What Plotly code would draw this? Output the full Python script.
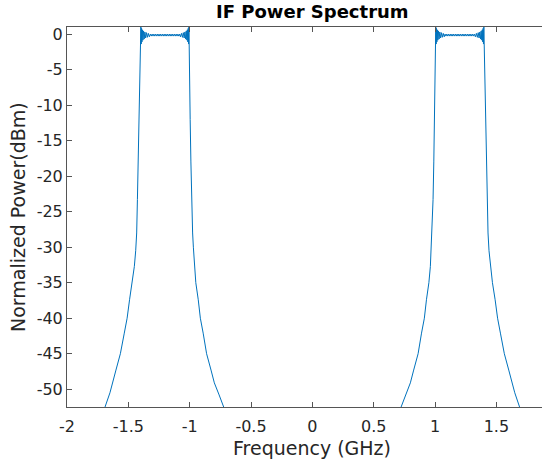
import plotly.graph_objects as go

# Frequency (GHz) and normalized power (dBm)
# Left band (negative frequencies)
left_outer_freq = [-1.720, -1.695, -1.650, -1.601, -1.565, -1.533, -1.510, -1.490, -1.468, -1.451,
                   -1.440, -1.432, -1.426, -1.420, -1.412, -1.406, -1.402]
left_outer_db = [-54.0, -52.8, -50.5, -47.3, -45.0, -42.1, -40.0, -37.4, -35.0, -32.7,
                 -30.5, -28.0, -23.3, -18.0, -12.0, -7.0, -3.0]
left_pass_freq = [-1.398, -1.395, -1.392, -1.389, -1.385, -1.381, -1.376, -1.371, -1.365, -1.359,
                  -1.352, -1.345, -1.337, -1.329,
                  -1.320, -1.313, -1.306, -1.299, -1.292, -1.285, -1.278, -1.271, -1.264, -1.257,
                  -1.250, -1.243, -1.236, -1.229, -1.222, -1.215, -1.208, -1.201, -1.194, -1.187,
                  -1.180, -1.173, -1.166, -1.159, -1.152, -1.145, -1.138, -1.131, -1.124, -1.117,
                  -1.110, -1.103, -1.096, -1.089, -1.082,
                  -1.075, -1.067, -1.059, -1.052, -1.045, -1.039, -1.033, -1.028, -1.023, -1.019,
                  -1.015, -1.012, -1.009, -1.006]
left_inner_freq = [-1.004, -1.000, -0.996, -0.990, -0.984, -0.976, -0.970, -0.962, -0.950, -0.930,
                   -0.913, -0.890, -0.862, -0.826, -0.799, -0.760, -0.717, -0.690]
left_inner_db = [-3.0, -7.0, -12.0, -18.0, -23.3, -28.0, -30.0, -32.7, -35.0, -37.4,
                 -40.0, -42.1, -45.0, -47.3, -49.1, -50.8, -52.8, -54.0]

# Right band (positive frequencies)
right_inner_freq = [0.690, 0.717, 0.760, 0.799, 0.826, 0.862, 0.890, 0.913, 0.930, 0.950,
                    0.962, 0.970, 0.976, 0.984, 0.990, 0.996, 1.000, 1.004]
right_inner_db = [-54.0, -52.8, -50.8, -49.1, -47.3, -45.0, -42.1, -40.0, -37.4, -35.0,
                  -32.7, -30.0, -28.0, -23.3, -18.0, -12.0, -7.0, -3.0]
right_pass_freq = [1.006, 1.009, 1.012, 1.015, 1.019, 1.023, 1.028, 1.033, 1.039, 1.045,
                   1.052, 1.059, 1.067, 1.075,
                   1.082, 1.089, 1.096, 1.103, 1.110, 1.117, 1.124, 1.131, 1.138, 1.145,
                   1.152, 1.159, 1.166, 1.173, 1.180, 1.187, 1.194, 1.201, 1.208, 1.215,
                   1.222, 1.229, 1.236, 1.243, 1.250, 1.257, 1.264, 1.271, 1.278, 1.285,
                   1.292, 1.299, 1.306, 1.313, 1.320,
                   1.329, 1.337, 1.345, 1.352, 1.359, 1.365, 1.371, 1.376, 1.381, 1.385,
                   1.389, 1.392, 1.395, 1.398]
right_outer_freq = [1.402, 1.406, 1.412, 1.420, 1.426, 1.432, 1.440, 1.451, 1.468, 1.490,
                    1.510, 1.533, 1.565, 1.601, 1.650, 1.695, 1.720]
right_outer_db = [-3.0, -7.0, -12.0, -18.0, -23.3, -28.0, -30.5, -32.7, -35.0, -37.4,
                  -40.0, -42.1, -45.0, -47.3, -50.5, -52.8, -54.0]

# Passband ripple (same for both bands, read left to right)
passband_db = [1.0, -1.4, 0.8, -1.1, 0.6, -0.85, 0.45, -0.7, 0.3, -0.55,
               0.2, -0.45, 0.1, -0.38,
               0.0, -0.28, 0.0, -0.28, 0.0, -0.28, 0.0, -0.28, 0.0, -0.28,
               0.0, -0.28, 0.0, -0.28, 0.0, -0.28, 0.0, -0.28, 0.0, -0.28,
               0.0, -0.28, 0.0, -0.28, 0.0, -0.28, 0.0, -0.28, 0.0, -0.28,
               0.0, -0.28, 0.0, -0.28, 0.0,
               -0.38, 0.1, -0.45, 0.2, -0.55, 0.3, -0.7, 0.45, -0.85, 0.6,
               -1.1, 0.8, -1.4, 1.0]

x_ticks = [-2, -1.5, -1, -0.5, 0, 0.5, 1, 1.5]
x_tick_labels = ["-2", "-1.5", "-1", "-0.5", "0", "0.5", "1", "1.5"]
y_ticks = [0, -5, -10, -15, -20, -25, -30, -35, -40, -45, -50]
y_tick_labels = ["0", "-5", "-10", "-15", "-20", "-25", "-30", "-35", "-40", "-45", "-50"]

title_text = "IF Power Spectrum"
x_label = "Frequency (GHz)"
y_label = "Normalized Power(dBm)"

freq = (left_outer_freq + left_pass_freq + left_inner_freq + [None]
        + right_inner_freq + right_pass_freq + right_outer_freq)
power = (left_outer_db + passband_db + left_inner_db + [None]
         + right_inner_db + passband_db + right_outer_db)

FONT = "DejaVu Sans"
TXT = "#262626"
AX = "#555555"

fig = go.Figure()
fig.add_trace(go.Scatter(x=freq, y=power, mode="lines",
                         line=dict(color="#0072BD", width=1.0),
                         connectgaps=False, showlegend=False, hoverinfo="skip"))

X_MIN, X_MAX = -2.0, 1.872
fig.update_layout(
    width=542, height=463,
    margin=dict(l=67, r=0, t=27, b=56),
    paper_bgcolor="white", plot_bgcolor="white",
    font=dict(family=FONT, size=16, color=TXT),
    xaxis=dict(range=[X_MIN, X_MAX], tickvals=x_ticks, ticktext=x_tick_labels,
               showgrid=False, zeroline=False, showline=True, linecolor=AX, linewidth=1,
               mirror="ticks", ticks="inside", ticklen=5, tickcolor=AX, tickwidth=1,
               ticklabelstandoff=5,
               tickfont=dict(family=FONT, size=16, color=TXT)),
    yaxis=dict(range=[-52.5, 1.0], tickvals=y_ticks, ticktext=y_tick_labels,
               showgrid=False, zeroline=False, showline=True, linecolor=AX, linewidth=1,
               mirror=False, ticks="inside", ticklen=5, tickcolor=AX, tickwidth=1,
               tickfont=dict(family=FONT, size=16, color=TXT)),
    annotations=[
        dict(text="<b>" + title_text + "</b>", xref="paper", yref="paper",
             x=(312 - 67) / 475, y=1.0, yshift=3, xanchor="center", yanchor="bottom",
             showarrow=False, font=dict(family=FONT, size=18, color="black")),
        dict(text=x_label, xref="paper", yref="paper",
             x=(312 - 67) / 475, y=0, yshift=-28, xanchor="center", yanchor="top",
             showarrow=False, font=dict(family=FONT, size=19, color=TXT)),
        dict(text=y_label, xref="paper", yref="paper", textangle=-90,
             x=0, xshift=-36, y=0.5, xanchor="right", yanchor="middle",
             showarrow=False, font=dict(family=FONT, size=19, color=TXT)),
    ],
)

fig.write_html("out.html")
